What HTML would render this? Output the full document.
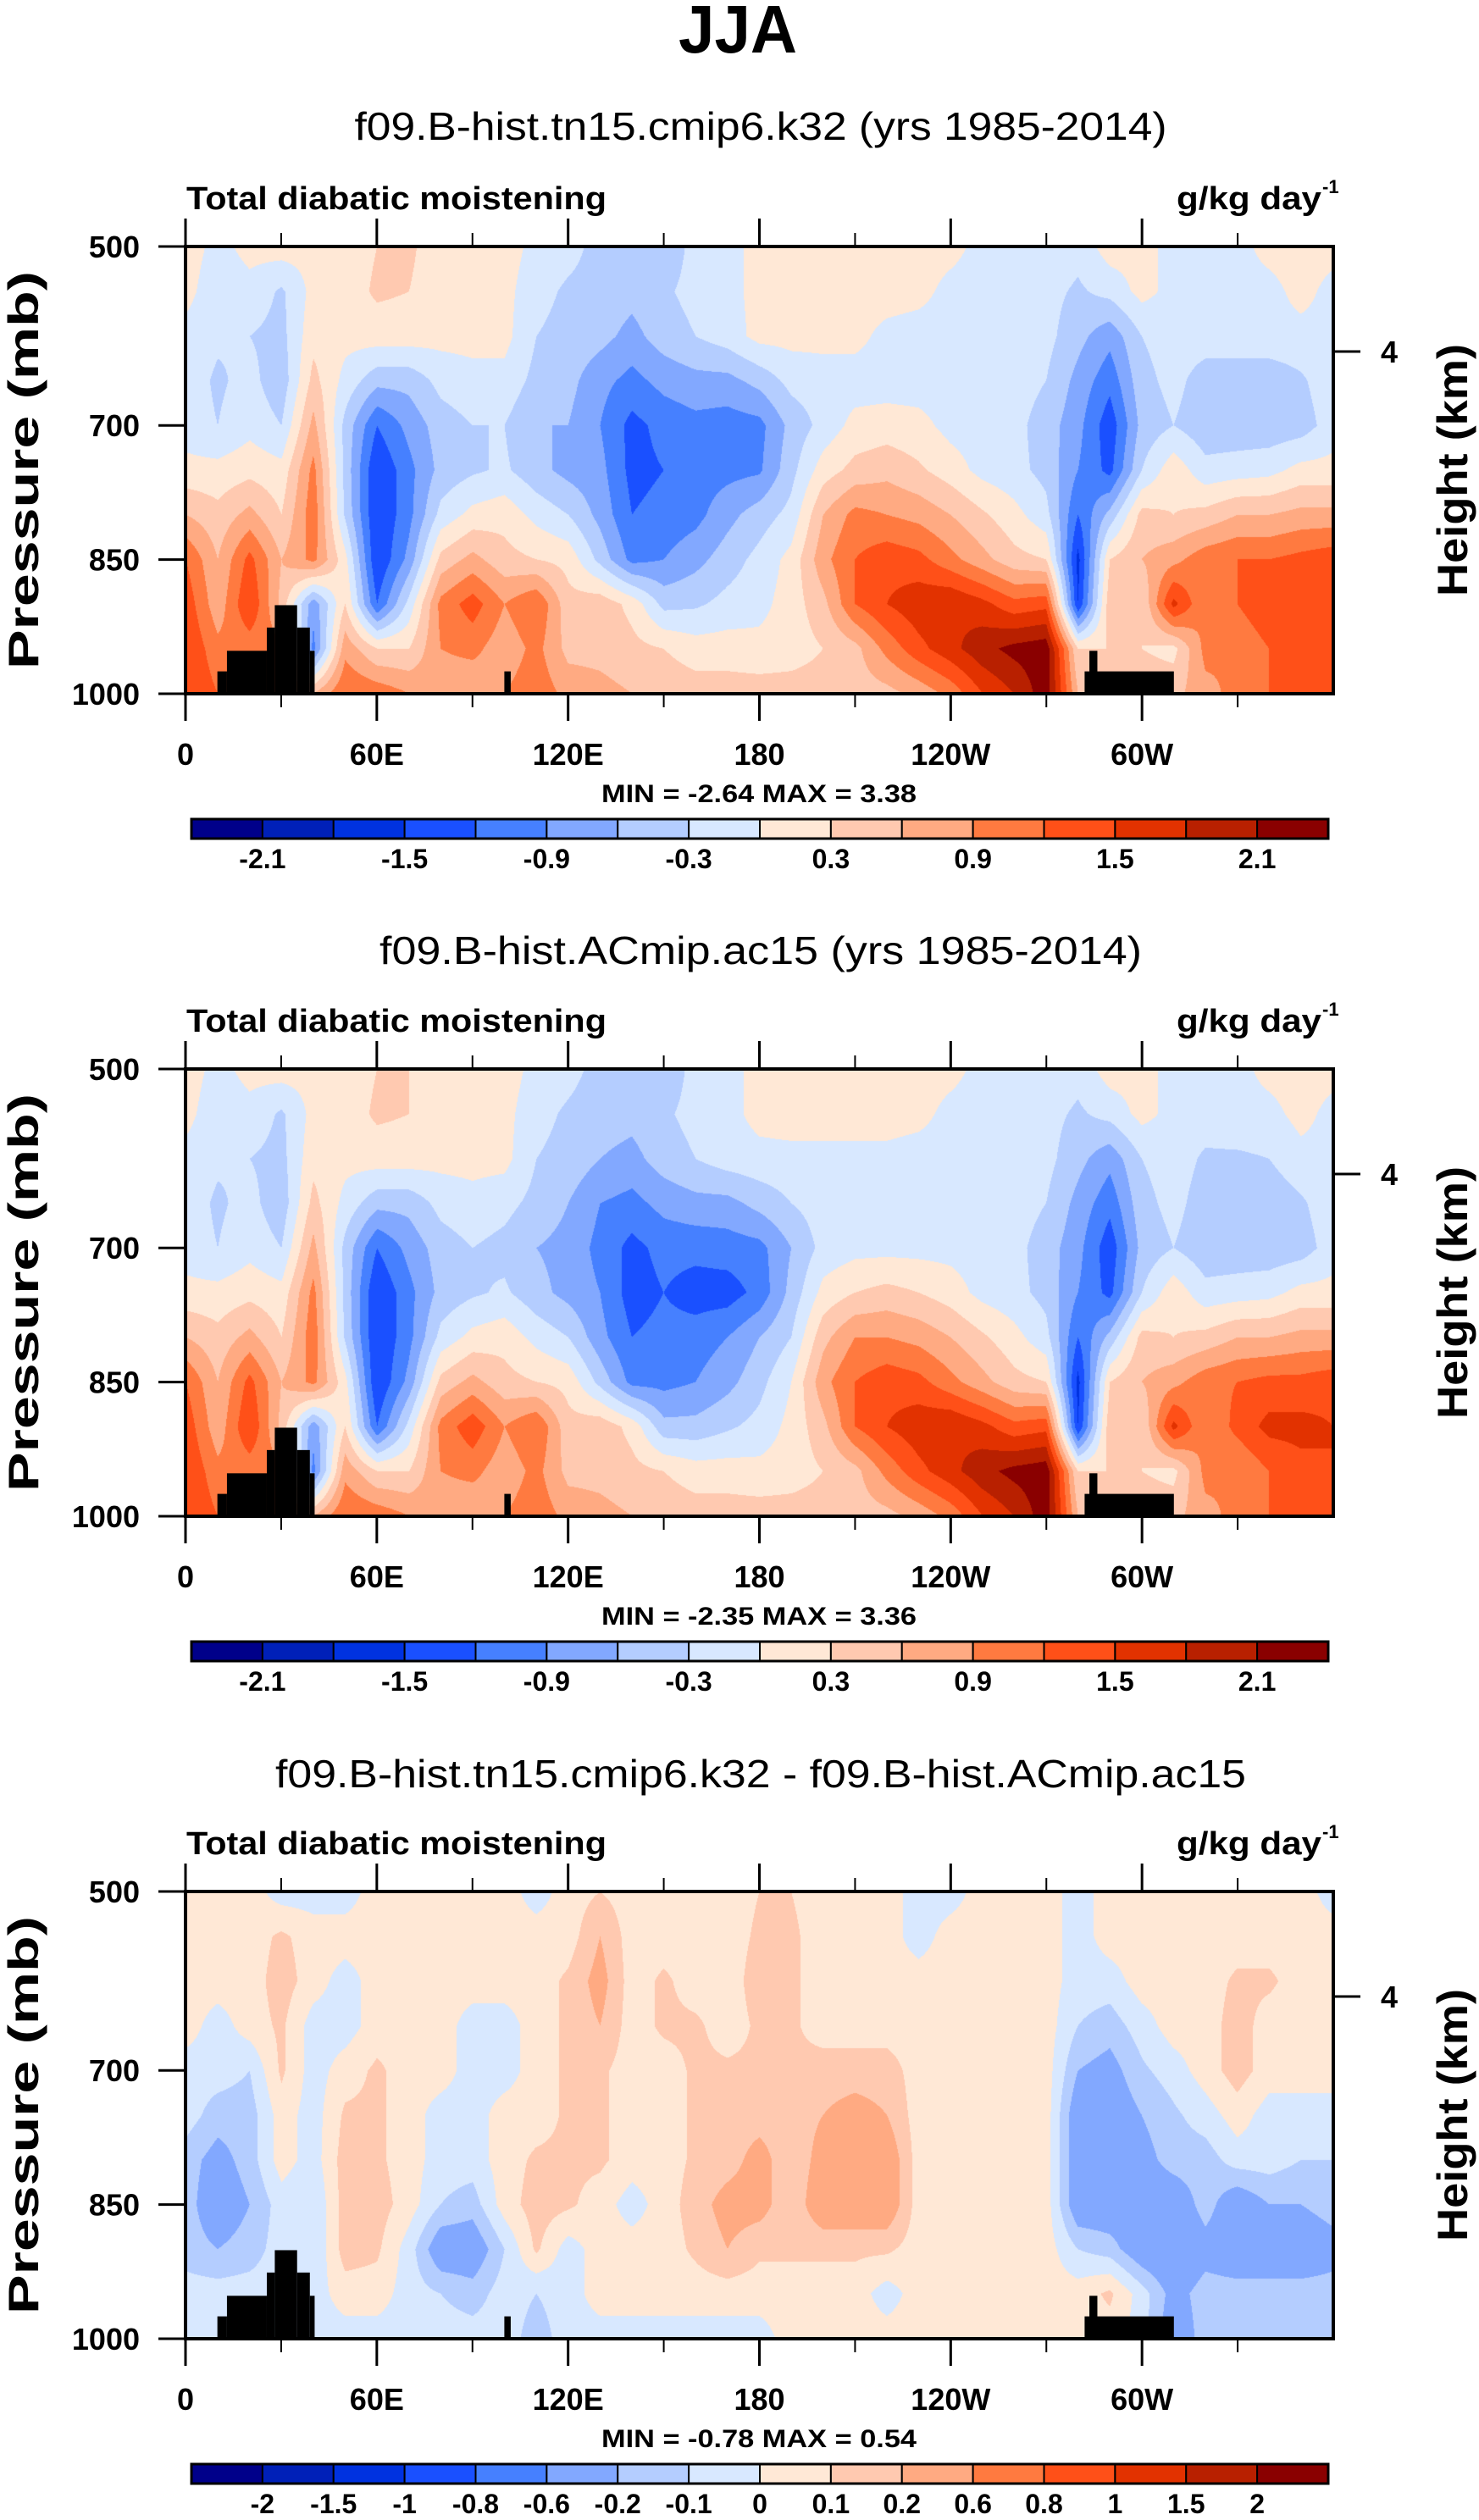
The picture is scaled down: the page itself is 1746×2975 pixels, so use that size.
<!DOCTYPE html>
<html><head><meta charset="utf-8"><title>JJA Total diabatic moistening</title>
<style>
html,body{margin:0;padding:0;background:#fff;}
#wrap{position:relative;width:1746px;height:2975px;overflow:hidden;background:#fff;}
canvas{position:absolute;}
svg{position:absolute;left:0;top:0;}
text{font-family:"Liberation Sans",sans-serif;fill:#000;}
</style></head>
<body>
<div id="wrap">
<svg id="svg" width="1746" height="2975"></svg>
</div>
<script>
// ---------- data ----------
const lonTicksMajor = [0, 60, 120, 180, 240, 300];
const lonTickLabels = ["0", "60E", "120E", "180", "120W", "60W"];
const lonTicksMinor = [30, 90, 150, 210, 270, 330];
const presTicks = [500, 700, 850, 1000];
const presTickLabels = ["500", "700", "850", "1000"];
const gridLons = [0,10,20,30,40,50,60,70,80,90,100,110,120,130,140,150,160,170,180,190,200,210,220,230,240,250,260,270,280,290,300,310,320,330,340,350,360];
const gridPres = [500,550,600,650,700,750,800,850,900,950,1000];

const levelsMain = [-2.1,-1.8,-1.5,-1.2,-0.9,-0.6,-0.3,0,0.3,0.6,0.9,1.2,1.5,1.8,2.1];
const labelsMain = ["-2.1","","-1.5","","-0.9","","-0.3","","0.3","","0.9","","1.5","","2.1"];
const levelsDiff = [-2,-1.5,-1,-0.8,-0.6,-0.2,-0.1,0,0.1,0.2,0.6,0.8,1,1.5,2];
const labelsDiff = ["-2","-1.5","-1","-0.8","-0.6","-0.2","-0.1","0","0.1","0.2","0.6","0.8","1","1.5","2"];
const palette = ["#00008a","#0020b8","#0032e0","#1a50ff","#4680ff","#82a8ff","#b4cdff","#d8e8ff","#ffe8d6","#ffc9b0","#ffaa82","#ff7a40","#ff5018","#e23200","#b82000","#8a0000"];

// topography mask (lon start, lon end, top pressure)
const topoLon0 = [10, 13, 25.5, 28, 35, 39, 100, 282, 283.5];
const topoLon1 = [13, 25.5, 28, 35, 39, 40.5, 102, 310, 286];
const topoPres = [975, 952, 926, 901, 926, 952, 975, 975, 952];

const field1 = [
[.15,-.1,.1,.15,.1,.15,.3,.35,.15,.15,.15,-.1,-.2,-.4,-.4,-.5,-.2,-.1,.1,.15,.15,.15,.15,.15,.1,-.1,-.15,-.1,-.2,.15,.1,-.1,-.1,-.1,.1,.15,.1],
[.1,-.2,-.1,-.35,.1,.15,.35,.3,.15,.15,.1,-.2,-.35,-.4,-.5,-.35,-.2,-.1,.1,.15,.15,.15,.15,.1,-.1,-.15,-.15,-.2,-.35,-.2,.1,-.1,-.15,-.1,-.1,.1,-.1],
[-.1,-.25,-.3,-.4,.2,.1,.15,.15,.1,.1,.1,-.3,-.4,-.5,-.7,-.45,-.3,-.15,.1,.1,.1,.1,-.1,-.15,-.15,-.15,-.15,-.2,-.5,-.8,-.3,-.15,-.15,-.1,-.1,-.1,-.1],
[-.15,-.35,-.2,-.5,.4,-.1,-.5,-.5,-.2,-.1,-.1,-.4,-.5,-.8,-1.0,-.8,-.7,-.7,-.5,-.2,-.15,-.15,-.15,-.15,-.15,-.15,-.15,-.3,-.7,-1.1,-.4,-.2,-.45,-.5,-.5,-.35,-.1],
[-.15,-.3,-.1,-.3,.7,-.4,-1.2,-.8,-.45,-.3,-.3,-.6,-.6,-.9,-1.3,-1.1,-1.0,-1.05,-1.0,-.5,-.2,.1,.15,.1,-.1,-.15,-.2,-.45,-.8,-1.4,-.5,-.3,-.5,-.5,-.5,-.45,-.15],
[.1,.1,.2,.1,1.0,-.4,-1.5,-1.0,-.5,-.35,-.25,-.5,-.7,-.8,-1.3,-1.2,-1.05,-1.0,-.95,-.4,.15,.4,.5,.35,.15,-.1,-.2,-.4,-.9,-1.3,-.3,.2,-.2,-.15,-.1,.1,.1],
[.6,.4,.7,.3,1.1,-.35,-1.5,-1.0,-.2,.1,.2,-.1,-.3,-.7,-1.2,-1.1,-1.0,-.7,-.45,-.2,.6,1.0,.9,.8,.6,.35,.1,-.2,-1.2,-.5,.4,.3,.4,.6,.6,.7,.7],
[1.2,.6,1.3,.6,1.0,.1,-1.5,-.8,.4,.7,.4,.3,.2,-.4,-1.0,-.9,-.7,-.45,-.2,.1,.8,1.2,1.4,1.3,1.0,.7,.4,.3,-1.6,.3,.6,.8,1.1,1.2,1.2,1.3,1.4],
[1.4,.7,1.5,.5,-.8,.3,-1.2,-.2,1.0,1.35,.9,1.2,.4,.5,.2,-.4,-.35,-.2,-.1,.15,.5,1.2,1.5,1.7,1.8,1.6,1.3,1.4,-1.5,.5,.3,1.6,.9,1.2,1.5,1.5,1.4],
[1.5,1.0,1.0,1.0,-1.0,.8,.3,.3,.9,1.0,.7,1.0,.5,.5,.4,.3,.15,.15,.1,.15,.3,.5,1.0,1.4,1.7,2.0,2.2,2.3,.3,.3,.3,.2,1.0,.9,1.2,1.4,1.5],
[1.5,1.2,1.0,1.0,.6,1.2,1.1,.9,.7,.6,.9,1.1,.8,.7,.6,.5,.45,.45,.45,.45,.45,.45,.5,.7,1.0,1.5,1.8,2.3,.6,.5,.5,.5,.8,1.0,1.2,1.3,1.4]
];
const field2 = [
[.15,-.1,.1,.15,.1,.15,.3,.3,.15,.15,.15,-.1,-.2,-.4,-.4,-.5,-.2,-.1,.1,.15,.15,.15,.15,.15,.1,-.1,-.15,-.1,-.2,.15,.1,-.1,-.1,-.1,.1,.15,.1],
[.1,-.2,-.1,-.35,.1,.15,.35,.3,.15,.15,.1,-.2,-.35,-.45,-.5,-.35,-.2,-.1,.1,.15,.15,.15,.15,.1,-.1,-.15,-.15,-.2,-.35,-.2,.1,-.1,-.15,-.1,-.1,.1,-.1],
[-.1,-.25,-.3,-.4,.2,.1,.15,.15,.1,.1,.1,-.3,-.4,-.6,-.7,-.45,-.3,-.15,-.1,-.1,-.1,-.1,-.1,-.15,-.15,-.15,-.15,-.2,-.5,-.8,-.3,-.15,-.35,-.35,-.3,-.1,-.1],
[-.15,-.35,-.2,-.5,.4,-.1,-.5,-.5,-.2,-.1,-.2,-.4,-.6,-.9,-1.0,-.8,-.7,-.7,-.5,-.3,-.15,-.15,-.15,-.15,-.15,-.15,-.15,-.3,-.7,-1.1,-.4,-.2,-.45,-.5,-.5,-.35,-.1],
[-.15,-.3,-.1,-.3,.7,-.4,-1.2,-.8,-.45,-.3,-.4,-.6,-.7,-1.0,-1.3,-1.1,-1.1,-1.05,-1.0,-.6,-.2,-.1,-.1,-.1,-.1,-.15,-.2,-.45,-.8,-1.4,-.5,-.3,-.5,-.5,-.5,-.45,-.15],
[.1,.1,.2,.1,1.0,-.4,-1.5,-1.0,-.5,-.35,-.25,-.5,-.7,-.9,-1.35,-1.2,-1.35,-1.35,-1.1,-.5,.1,.3,.4,.3,.15,-.1,-.2,-.4,-.9,-1.3,-.3,.2,-.2,-.15,-.1,.1,.1],
[.6,.4,.7,.3,1.1,-.35,-1.5,-1.0,-.2,.1,.2,-.1,-.3,-.8,-1.2,-1.1,-1.05,-.9,-.6,-.3,.5,.9,.9,.8,.6,.35,.1,-.2,-1.2,-.5,.4,.3,.4,.6,.6,.7,.7],
[1.2,.6,1.3,.6,1.0,.1,-1.5,-.8,.4,.7,.4,.3,.2,-.4,-1.0,-1.0,-.9,-.7,-.4,.0,.8,1.2,1.4,1.3,1.0,.7,.4,.3,-1.6,.3,.6,.8,1.1,1.2,1.3,1.3,1.4],
[1.4,.7,1.5,.5,-.8,.3,-1.2,-.2,1.0,1.4,.9,1.2,.4,.5,.2,-.5,-.5,-.35,-.2,.1,.5,1.2,1.5,1.7,1.8,1.6,1.3,1.4,-1.5,.5,.3,1.6,.9,1.3,1.6,1.6,1.5],
[1.5,1.0,1.0,1.0,-1.0,.8,.3,.3,.9,1.0,.7,1.0,.5,.5,.4,.3,.15,.15,.1,.15,.3,.5,1.0,1.4,1.7,2.0,2.2,2.3,.3,.3,.3,.2,1.0,.9,1.2,1.4,1.5],
[1.5,1.2,1.0,1.0,.6,1.2,1.1,.9,.7,.6,.9,1.1,.8,.7,.6,.5,.45,.45,.45,.45,.45,.45,.5,.7,1.0,1.5,1.8,2.3,.6,.5,.5,.5,.8,1.0,1.2,1.3,1.4]
];
const field3 = [
[.05,.05,.05,-.05,-.05,-.05,.05,.05,.05,.05,.05,-.05,.05,.1,.05,.05,.05,.05,.1,.1,.05,.05,.05,-.05,-.05,.05,.05,.05,-.05,.05,.05,.05,.05,.05,.05,.05,-.05],
[.05,.05,.05,.12,.05,.05,.05,.05,.05,.05,.05,.05,.05,.2,.05,.05,.05,.05,.12,.12,.05,.05,.05,-.05,.05,.05,.05,.05,-.05,.05,.05,.05,.05,.05,.05,.05,.05],
[.05,.05,.05,.15,.05,-.05,.05,.05,.05,.05,.05,.05,.12,.25,.05,.12,.05,.05,.15,.12,.05,.05,.05,.05,.05,.05,.05,.05,-.05,-.05,.05,.05,.05,.12,.12,.05,.05],
[.05,-.05,.05,.12,-.05,-.05,.05,.05,.05,-.05,-.05,.05,.12,.2,.05,.12,.12,.05,.12,.12,.05,.05,.05,.05,.05,.05,.05,.05,-.1,-.15,-.05,.05,.05,.15,.05,.05,.05],
[-.05,-.05,-.1,.12,-.05,.05,.12,.05,.05,-.05,-.05,.05,.12,.12,.05,.05,.12,.12,.12,.12,.15,.15,.15,.05,.05,.05,.05,.05,-.2,-.25,-.12,-.05,.05,.15,.05,.05,.05],
[-.05,-.15,-.15,.05,-.05,.12,.12,.05,-.05,-.05,.05,.05,.12,.12,.05,.05,.12,.15,.15,.15,.2,.25,.2,.05,.05,.05,.05,.05,-.3,-.3,-.2,-.12,-.05,.05,-.05,-.05,-.05],
[-.15,-.25,-.15,.05,-.05,.15,.12,.05,-.05,-.05,.05,.12,.12,.12,.05,.05,.12,.15,.25,.12,.25,.3,.3,.05,.05,.05,.05,.05,-.3,-.3,-.25,-.15,-.15,-.05,-.05,-.1,-.1],
[-.15,-.3,-.2,-.05,-.1,.15,.15,.05,-.1,-.15,.05,.15,.12,.05,-.05,.05,.15,.25,.25,.12,.3,.3,.3,.05,.05,.05,.05,.05,-.3,-.3,-.3,-.3,-.15,-.3,-.2,-.2,-.15],
[-.15,-.2,-.15,-.05,-.1,.15,.12,-.05,-.3,-.3,-.1,.12,-.05,.05,.05,.05,.12,.2,.12,.12,.12,.12,.12,.05,.05,.05,.05,.05,-.1,-.15,-.3,-.35,-.25,-.3,-.3,-.3,-.25],
[-.05,-.05,-.05,-.05,-.05,.05,.05,-.05,-.1,-.15,-.05,-.1,-.05,.05,.05,.05,.05,.05,.05,.05,.05,.05,-.05,.05,.05,.05,.05,.05,.05,.12,-.05,-.25,-.15,-.15,-.15,-.15,-.15],
[-.05,-.05,-.05,-.05,-.05,-.05,-.05,-.05,-.05,-.05,-.05,-.15,-.05,-.05,-.05,-.05,-.05,-.05,-.05,.05,.05,.05,.05,.05,.05,.05,.05,.05,.05,.05,-.05,-.3,-.15,-.15,-.15,-.15,-.15]
];

const panelTitles = ["f09.B-hist.tn15.cmip6.k32 (yrs 1985-2014)", "f09.B-hist.ACmip.ac15 (yrs 1985-2014)", "f09.B-hist.tn15.cmip6.k32 - f09.B-hist.ACmip.ac15"];
const panelMin = ["-2.64", "-2.35", "-0.78"];
const panelMax = ["3.38", "3.36", "0.54"];

// ---------- layout ----------
const PX0 = 219, PX1 = 1574, PY0 = 291, PH = 528;
const panelOffsets = [0, 971, 1942];
const titleWidths = [959, 900, 1146];
const titleYs = [165, 1138, 2110];
const svg = document.getElementById('svg');
const NS = 'http://www.w3.org/2000/svg';
function mk(tag, attrs, parent) {
  const e = document.createElementNS(NS, tag);
  for (const k in attrs) e.setAttribute(k, attrs[k]);
  (parent || svg).appendChild(e);
  return e;
}
function xOfLon(l) { return PX0 + (PX1 - PX0) * l / 360; }
function yOfP(p, oy) { return oy + PY0 + PH * (p - 500) / 500; }

function colorIndex(v, lv) { let i = 0; while (i < lv.length && v >= lv[i]) i++; return i; }
function hexToRgb(h) { return [parseInt(h.slice(1,3),16), parseInt(h.slice(3,5),16), parseInt(h.slice(5,7),16)]; }
const palRgb = palette.map(hexToRgb);

// main title
let t = mk('text', {x: 871, y: 62, 'font-size': 80, 'font-weight': 'bold', 'text-anchor': 'middle', textLength: 140, lengthAdjust: 'spacingAndGlyphs'});
t.textContent = 'JJA';



const fields = [field1, field2, field3];
for (let k = 0; k < 3; k++) {
  const oy = panelOffsets[k];
  const field = fields[k];
  const lv = k === 2 ? levelsDiff : levelsMain;
  const lbl = k === 2 ? labelsDiff : labelsMain;
  const g = mk('g', {});
  
  

  // contour field canvas
  const W = PX1 - PX0, H = PH;
  const cv = document.createElement('canvas');
  cv.width = W; cv.height = H;
  cv.style.left = PX0 + 'px'; cv.style.top = (oy + PY0) + 'px';
  
  
  document.getElementById('wrap').insertBefore(cv, svg);
  const ctx = cv.getContext('2d');
  const img = ctx.createImageData(W, H);
  const nC = gridLons.length, nR = gridPres.length;
  for (let y = 0; y < H; y++) {
    const p = 500 + 500 * y / (H - 1);
    let r = 0; while (r < nR - 2 && gridPres[r + 1] < p) r++;
    const fy = (p - gridPres[r]) / (gridPres[r + 1] - gridPres[r]);
    for (let x = 0; x < W; x++) {
      const lon = 360 * x / (W - 1);
      let c = 0; while (c < nC - 2 && gridLons[c + 1] < lon) c++;
      const fx = (lon - gridLons[c]) / (gridLons[c + 1] - gridLons[c]);
      const v = (field[r][c] * (1 - fx) + field[r][c + 1] * fx) * (1 - fy) + (field[r + 1][c] * (1 - fx) + field[r + 1][c + 1] * fx) * fy;
      const col = palRgb[colorIndex(v, lv)];
      const o = (y * W + x) * 4;
      img.data[o] = col[0]; img.data[o + 1] = col[1]; img.data[o + 2] = col[2]; img.data[o + 3] = 255;
    }
  }
  ctx.putImageData(img, 0, 0);

  // topography
  for (let i = 0; i < topoLon0.length; i++) {
    const r = mk('rect', {x: xOfLon(topoLon0[i]), y: yOfP(topoPres[i], oy), width: xOfLon(topoLon1[i]) - xOfLon(topoLon0[i]), height: yOfP(1000, oy) - yOfP(topoPres[i], oy), fill: '#000'}, g);
    
    
  }

  // frame
  const fr = mk('rect', {x: PX0, y: oy + PY0, width: PX1 - PX0, height: PH, fill: 'none', stroke: '#000', 'stroke-width': 4}, g);
  
  

  // x ticks
  lonTicksMajor.forEach((l, i) => {
    const x = xOfLon(l);
    const a = mk('line', {x1: x, x2: x, y1: oy + 258, y2: oy + PY0, stroke: '#000', 'stroke-width': 3}, g);
    
    
    const b = mk('line', {x1: x, x2: x, y1: oy + 819, y2: oy + 851, stroke: '#000', 'stroke-width': 3}, g);
    
    
    const tl = mk('text', {x: x, y: oy + 903, 'font-size': 36, 'font-weight': 'bold', 'text-anchor': 'middle'}, g);
    tl.textContent = lonTickLabels[i];
    
    
  });
  lonTicksMinor.forEach(l => {
    const x = xOfLon(l);
    const a = mk('line', {x1: x, x2: x, y1: oy + 275, y2: oy + PY0, stroke: '#000', 'stroke-width': 2}, g);
    
    
    const b = mk('line', {x1: x, x2: x, y1: oy + 819, y2: oy + 835, stroke: '#000', 'stroke-width': 2}, g);
    
    
  });
  // y ticks
  presTicks.forEach((p, i) => {
    const y = yOfP(p, oy);
    const a = mk('line', {x1: 187, x2: PX0, y1: y, y2: y, stroke: '#000', 'stroke-width': 3}, g);
    
    
    const tl = mk('text', {x: 165, y: y + 13, 'font-size': 36, 'font-weight': 'bold', 'text-anchor': 'end'}, g);
    tl.textContent = presTickLabels[i];
    
    
  });
  // right height tick
  const rt = mk('line', {x1: PX1, x2: 1606, y1: oy + 415, y2: oy + 415, stroke: '#000', 'stroke-width': 3}, g);
  
  
  const rl = mk('text', {x: 1640, y: oy + 428, 'font-size': 36, 'font-weight': 'bold', 'text-anchor': 'middle'}, g);
  rl.textContent = '4';
  
  

  // axis titles
  const yt = mk('text', {x: 0, y: 0, 'font-size': 50, 'font-weight': 'bold', 'text-anchor': 'middle', textLength: 470, lengthAdjust: 'spacingAndGlyphs', transform: 'translate(45,' + (oy + 555) + ') rotate(-90)'}, g);
  yt.textContent = 'Pressure (mb)';
  
  
  const ht = mk('text', {x: 0, y: 0, 'font-size': 50, 'font-weight': 'bold', 'text-anchor': 'middle', textLength: 298, lengthAdjust: 'spacingAndGlyphs', transform: 'translate(1732,' + (oy + 555) + ') rotate(-90)'}, g);
  ht.textContent = 'Height (km)';
  
  

  // titles
  const st = mk('text', {x: 898, y: titleYs[k], 'font-size': 46, 'text-anchor': 'middle', textLength: titleWidths[k], lengthAdjust: 'spacingAndGlyphs'}, g);
  st.textContent = panelTitles[k];
  
  
  const lt = mk('text', {x: 220, y: oy + 247, 'font-size': 38, 'font-weight': 'bold', textLength: 496, lengthAdjust: 'spacingAndGlyphs'}, g);
  lt.textContent = 'Total diabatic moistening';
  
  
  const ut = mk('text', {x: 1389, y: oy + 247, 'font-size': 38, 'font-weight': 'bold', textLength: 171, lengthAdjust: 'spacingAndGlyphs'}, g);
  ut.textContent = 'g/kg day';
  
  
  const us = mk('text', {x: 1561, y: oy + 228, 'font-size': 22, 'font-weight': 'bold'}, g);
  us.textContent = '-1';
  
  
  const mm = mk('text', {x: 710, y: oy + 947, 'font-size': 30, 'font-weight': 'bold', textLength: 372, lengthAdjust: 'spacingAndGlyphs', 'xml:space': 'preserve'}, g);
  mm.textContent = 'MIN = ' + panelMin[k] + '  MAX = ' + panelMax[k];
  
  

  // colorbar
  const CB0 = 226, CB1 = 1568, CBY = oy + 967, CBH = 23;
  const bw = (CB1 - CB0) / palette.length;
  palette.forEach((c, i) => {
    const r = mk('rect', {x: CB0 + i * bw, y: CBY, width: bw, height: CBH, fill: c, stroke: '#000', 'stroke-width': 2}, g);
    
    
  });
  const cbf = mk('rect', {x: CB0, y: CBY, width: CB1 - CB0, height: CBH, fill: 'none', stroke: '#000', 'stroke-width': 3}, g);
  
  
  lbl.forEach((s, i) => {
    if (!s) return;
    const tl = mk('text', {x: CB0 + (i + 1) * bw, y: oy + 1025, 'font-size': 32, 'font-weight': 'bold', 'text-anchor': 'middle'}, g);
    tl.textContent = s;
    
    
  });
}
</script>
</body></html>
